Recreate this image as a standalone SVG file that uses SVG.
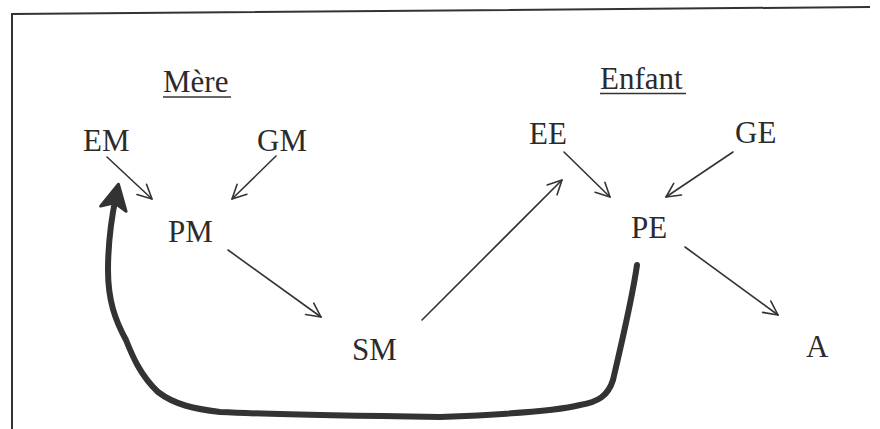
<svg xmlns="http://www.w3.org/2000/svg" width="880" height="429" viewBox="0 0 880 429">
  <style>
    .lbl { font-family: "Liberation Serif", "Times New Roman", serif; font-size: 31px; fill: #2b2b2b; }
    .thin { fill: none; stroke: #333; stroke-width: 1.6; stroke-linecap: round; }
    .thick { fill: none; stroke: #333; stroke-width: 6; stroke-linecap: round; stroke-linejoin: round; }
    .frame { fill: none; stroke: #333; stroke-width: 2; }
  </style>
  <defs>
    <marker id="open" markerUnits="userSpaceOnUse" markerWidth="20" markerHeight="20" viewBox="0 0 20 20" refX="16" refY="10" orient="auto">
      <path d="M2,3 L16,10 L2,17" fill="none" stroke="#333" stroke-width="1.6" stroke-linecap="round" stroke-linejoin="round"/>
    </marker>
    <marker id="bold" markerUnits="userSpaceOnUse" markerWidth="40" markerHeight="40" viewBox="0 0 40 40" refX="17" refY="20" orient="auto">
      <path d="M4,7 L29,20 L4,33 L10,20 Z" fill="#333" stroke="#333" stroke-width="3" stroke-linejoin="round"/>
    </marker>
  </defs>
  <rect width="880" height="429" fill="#fff"/>

  <!-- frame -->
  <path class="frame" d="M12,429 L12,14 L870,7"/>

  <!-- group headings -->
  <g id="heading-mere">
    <text class="lbl" x="163" y="92">Mère</text>
    <line x1="163" y1="97" x2="231" y2="97" stroke="#333" stroke-width="1.6"/>
  </g>
  <g id="heading-enfant">
    <text class="lbl" x="600" y="89">Enfant</text>
    <line x1="600" y1="93.5" x2="686" y2="93.5" stroke="#333" stroke-width="1.6"/>
  </g>

  <!-- nodes -->
  <g id="EM"><text class="lbl" x="83" y="151">EM</text></g>
  <g id="GM"><text class="lbl" x="257" y="151">GM</text></g>
  <g id="PM"><text class="lbl" x="168" y="242">PM</text></g>
  <g id="SM"><text class="lbl" x="352" y="360">SM</text></g>
  <g id="EE"><text class="lbl" x="529" y="144">EE</text></g>
  <g id="GE"><text class="lbl" x="735" y="143">GE</text></g>
  <g id="PE"><text class="lbl" x="631" y="238">PE</text></g>
  <g id="A"><text class="lbl" x="806" y="357">A</text></g>

  <!-- connectors -->
  <g id="connectors">
    <line class="thin" x1="107" y1="157" x2="152" y2="199" marker-end="url(#open)"/>
    <line class="thin" x1="276" y1="156" x2="232" y2="199" marker-end="url(#open)"/>
    <line class="thin" x1="228" y1="250" x2="321" y2="317" marker-end="url(#open)"/>
    <line class="thin" x1="422" y1="320" x2="562" y2="180" marker-end="url(#open)"/>
    <line class="thin" x1="564" y1="152" x2="610" y2="197" marker-end="url(#open)"/>
    <line class="thin" x1="733" y1="152" x2="666" y2="197" marker-end="url(#open)"/>
    <line class="thin" x1="685" y1="247" x2="778" y2="315" marker-end="url(#open)"/>
    <path class="thick" d="M637,265 C632,300 620,350 613,380 C608,396 598,402 580,405 C560,410 520,414 440,417 C360,416 260,414 220,412 C195,409 175,405 158,392 C140,375 132,355 126,340 C115,320 108,300 108,270 C108,248 110,225 116,196" marker-end="url(#bold)"/>
  </g>
</svg>
